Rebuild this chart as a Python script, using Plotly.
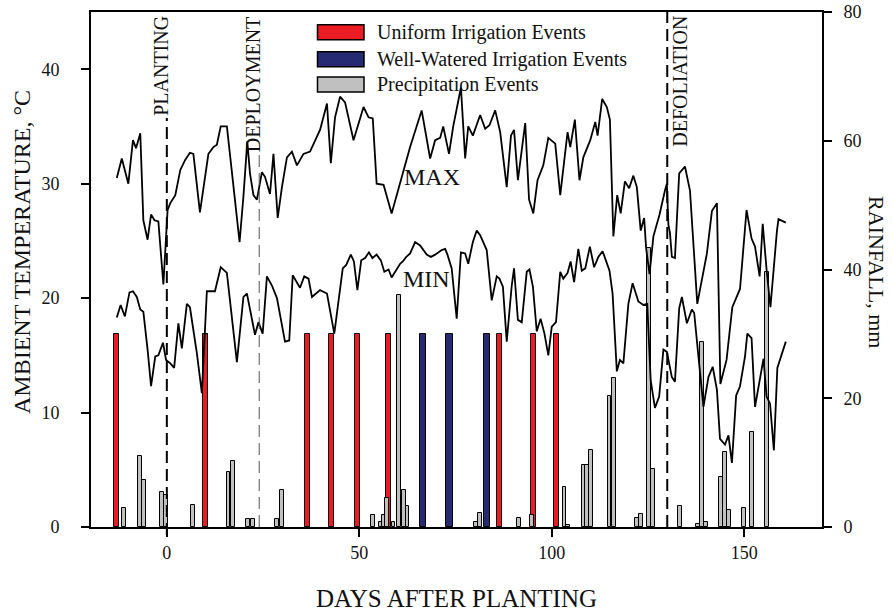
import plotly.graph_objects as go

# ---------------- data ----------------
max_day = [-13.0, -11.7, -10.0, -8.8, -8.0, -6.9, -6.1, -5.0, -4.1, -3.2,
           -2.2, -0.9, 0.2, 0.9, 2.2, 3.5, 4.8, 6.0, 6.9, 8.6,
           10.8, 12.1, 13.0, 14.0, 15.6, 18.9, 19.9, 20.9, 21.6, 22.5,
           23.4, 24.7, 25.5, 26.8, 27.7, 28.8, 29.9, 31.2, 32.5, 33.8,
           35.5, 37.2, 39.8, 41.6, 42.6, 43.7, 45.0, 46.3, 48.5, 51.1,
           52.4, 53.5, 54.5, 56.3, 58.4, 60.6, 63.2, 66.2, 68.4, 69.7,
           71.0, 71.8, 73.3, 74.4, 76.4, 77.5, 78.3, 79.5, 81.4, 82.7,
           83.8, 85.3, 86.6, 88.3, 89.4, 90.2, 91.2, 93.1, 94.1, 95.2,
           96.3, 97.8, 99.1, 100.9, 102.2, 104.1, 104.8, 106.0, 107.2, 108.2,
           110.0, 111.3, 111.9, 113.1, 114.3, 115.1, 116.0, 117.0, 117.9, 119.0,
           120.1, 121.2, 122.1, 123.1, 124.0, 124.5, 125.4, 126.4, 128.0, 129.4,
           129.9, 130.3, 130.7, 131.2, 132.0, 133.1, 133.8, 134.6, 135.9, 137.8,
           140.3, 141.6, 142.9, 143.8, 145.4, 146.9, 148.9, 150.6, 151.9, 152.8,
           154.0, 154.8, 155.8, 156.8, 158.5, 158.9, 160.8]
max_temp = [30.5, 32.2, 30.0, 33.8, 33.1, 34.4, 26.8, 25.1, 27.3, 26.8,
            26.7, 21.2, 27.7, 28.3, 29.0, 31.2, 32.1, 32.7, 32.6, 27.5,
            32.6, 33.2, 33.4, 35.0, 35.0, 24.9, 28.9, 33.7, 30.9, 29.0,
            28.6, 31.0, 30.6, 29.1, 32.6, 27.0, 29.7, 32.3, 32.8, 31.6,
            32.6, 32.8, 34.7, 37.0, 31.8, 35.8, 37.6, 37.1, 33.8, 36.7,
            35.8, 35.7, 30.0, 29.9, 27.4, 30.0, 33.2, 36.4, 32.2, 33.8,
            34.0, 35.0, 32.6, 35.0, 38.4, 32.2, 35.0, 34.2, 36.0, 34.8,
            35.1, 36.4, 34.5, 29.7, 34.2, 34.7, 30.3, 35.3, 28.6, 27.4,
            30.3, 31.6, 34.0, 33.5, 29.0, 34.5, 33.2, 35.6, 30.3, 32.3,
            33.8, 35.4, 34.2, 37.4, 36.7, 35.6, 25.4, 29.0, 27.4, 30.2,
            29.6, 30.7, 29.7, 25.9, 27.0, 24.4, 22.1, 25.4, 27.3, 29.4,
            30.0, 26.4, 25.7, 23.6, 23.5, 30.9, 31.2, 31.5, 29.4, 19.5,
            23.9, 27.6, 28.3, 12.5, 14.6, 19.2, 20.8, 27.7, 25.2, 24.5,
            21.9, 26.5, 22.5, 19.2, 25.9, 26.9, 26.6]

min_day = [-13.0, -12.0, -10.9, -9.7, -8.8, -7.8, -6.9, -6.1, -5.0, -4.1,
           -3.0, -2.2, -1.0, -0.2, 0.9, 1.9, 3.0, 3.9, 5.2, 6.0,
           7.8, 9.1, 10.4, 12.5, 14.0, 15.6, 18.2, 19.9, 20.8, 22.9,
           23.8, 24.9, 26.0, 27.3, 28.6, 30.7, 31.8, 32.7, 34.6, 35.7,
           36.8, 37.7, 39.8, 41.6, 43.5, 44.6, 45.7, 46.6, 47.8, 48.6,
           49.5, 50.5, 51.5, 52.5, 53.4, 54.5, 55.6, 56.5, 57.6, 58.4,
           59.7, 60.6, 61.3, 62.2, 63.2, 64.5, 65.8, 67.5, 68.6, 69.7,
           71.4, 72.3, 72.9, 74.0, 75.3, 76.4, 77.5, 78.3, 79.5, 80.5,
           81.4, 83.1, 84.4, 85.7, 86.4, 87.3, 88.3, 89.6, 90.2, 91.2,
           92.2, 93.5, 94.2, 95.1, 96.1, 97.1, 98.1, 99.1, 100.0, 101.1,
           102.2, 103.0, 104.1, 104.9, 105.8, 106.9, 107.8, 108.7, 109.9, 111.0,
           112.1, 113.2, 115.0, 115.8, 116.9, 117.7, 118.6, 119.9, 121.0, 122.5,
           123.8, 124.8, 125.7, 126.8, 127.9, 129.0, 129.9, 131.2, 132.0, 133.1,
           133.8, 135.1, 136.4, 137.0, 138.1, 139.4, 140.7, 141.8, 142.9, 143.7,
           145.0, 145.9, 146.8, 147.9, 148.9, 150.2, 150.8, 151.9, 152.8, 153.9,
           155.0, 155.8, 156.7, 157.7, 158.6, 160.8]
min_temp = [18.3, 19.4, 18.4, 20.5, 20.6, 20.1, 19.0, 18.8, 15.5, 12.3,
            14.9, 15.0, 16.1, 14.6, 14.3, 13.9, 17.8, 15.6, 19.5, 19.2,
            15.2, 11.7, 20.6, 20.6, 22.7, 22.2, 14.4, 20.1, 20.4, 16.8,
            17.9, 16.9, 21.9, 21.1, 20.0, 16.2, 16.3, 22.0, 20.9, 21.9,
            21.7, 20.1, 20.7, 20.4, 16.9, 19.8, 22.6, 22.9, 23.8, 23.2,
            20.7, 23.3, 23.5, 24.0, 23.5, 23.8, 23.3, 22.3, 22.5, 21.8,
            22.5, 23.0, 23.2, 23.6, 23.9, 24.9, 24.6, 23.8, 23.6, 23.8,
            24.2, 24.3, 23.8, 22.6, 18.2, 24.0, 23.9, 23.0, 24.9, 25.9,
            25.5, 24.2, 19.8, 21.9, 21.7, 21.0, 16.2, 21.1, 22.6, 18.1,
            17.9, 22.3, 22.5, 21.0, 17.1, 18.2, 16.9, 15.0, 17.5, 17.9,
            22.3, 21.7, 22.2, 23.2, 21.4, 24.3, 22.4, 22.6, 24.5, 22.7,
            23.6, 24.1, 22.4, 20.4, 13.6, 14.6, 14.3, 19.5, 21.3, 19.7,
            19.4, 19.5, 12.8, 10.4, 11.4, 15.5, 15.3, 13.1, 12.7, 19.1,
            20.1, 17.8, 19.0, 18.7, 14.9, 10.5, 13.1, 14.0, 12.0, 7.7,
            7.2, 8.0, 5.6, 11.5, 12.3, 14.9, 16.9, 16.5, 10.5, 12.8,
            14.7, 11.4, 10.8, 6.7, 13.9, 16.2]

uniform_day = [-13.0, 10.0, 36.6, 42.7, 49.6, 57.6, 86.4, 95.3, 101.3]
uniform_mm = [30.0, 30.0, 30.0, 30.0, 30.0, 30.0, 30.0, 30.0, 30.0]

well_day = [66.6, 73.4, 83.2]
well_mm = [30.0, 30.0, 30.0]

precip_day = [-11.1, -6.9, -6.0, -1.3, -0.3, 6.8, 16.0, 17.2, 21.1, 22.4,
              28.7, 29.9, 53.6, 55.5, 56.3, 57.2, 58.9, 60.4, 61.5, 62.5,
              80.4, 81.4, 91.4, 94.9, 103.3, 104.2, 108.3, 109.2, 110.2, 115.0,
              116.1, 122.2, 123.1, 125.2, 126.3, 133.2, 138.0, 139.0, 140.1, 144.0,
              145.0, 146.0, 150.0, 152.0, 155.9]
precip_mm = [2.9, 11.1, 7.3, 5.5, 5.0, 3.4, 8.5, 10.3, 1.3, 1.3,
             1.3, 5.7, 1.9, 0.8, 1.9, 4.5, 0.8, 36.0, 5.8, 3.2,
             0.8, 2.1, 1.35, 1.9, 6.2, 0.3, 9.6, 9.6, 12.0, 20.3,
             23.2, 1.35, 2.0, 43.3, 9.0, 3.2, 0.5, 28.8, 0.8, 7.8,
             11.7, 2.7, 2.9, 14.8, 39.6]

event_names = ["PLANTING", "DEPLOYMENT", "DEFOLIATION"]
event_day = [0.0, 24.0, 130.0]

series_names = ["Uniform Irrigation Events", "Well-Watered Irrigation Events",
                "Precipitation Events"]
series_colors = ["#ec1c24", "#262a72", "#c0c0c0"]

temp_ticks = [0, 10, 20, 30, 40]
rain_ticks = [0, 20, 40, 60, 80]
day_ticks = [0, 50, 100, 150]

FONT = "Liberation Serif"
TXT = "#111111"
assert len(max_day) == len(max_temp)
assert len(min_day) == len(min_temp)
assert len(precip_day) == len(precip_mm)

fig = go.Figure()

bar_line = dict(color="black", width=1)
fig.add_trace(go.Bar(x=uniform_day, y=uniform_mm, width=1.3, yaxis="y",
                     marker=dict(color=series_colors[0], line=bar_line),
                     name=series_names[0], showlegend=False))
fig.add_trace(go.Bar(x=well_day, y=well_mm, width=1.7, yaxis="y",
                     marker=dict(color=series_colors[1], line=bar_line),
                     name=series_names[1], showlegend=False))
fig.add_trace(go.Bar(x=precip_day, y=precip_mm, width=1.0, yaxis="y",
                     marker=dict(color=series_colors[2], line=bar_line),
                     name=series_names[2], showlegend=False))

fig.add_trace(go.Scatter(x=max_day, y=max_temp, mode="lines", yaxis="y2",
                         line=dict(color="black", width=1.8), showlegend=False,
                         name="MAX"))
fig.add_trace(go.Scatter(x=min_day, y=min_temp, mode="lines", yaxis="y2",
                         line=dict(color="black", width=1.8), showlegend=False,
                         name="MIN"))

# plot area in pixels: x 91..822, y 12..527
L, R, T, B = 91, 822, 12, 527
PW, PH = R - L, B - T


def px(xp):
    return (xp - L) / PW


def py(yp):
    return (B - yp) / PH


shapes = []
annotations = []

# event lines
ev_style = [dict(color="black", width=2, dash="12px,6px"),
            dict(color="#555555", width=1, dash="12px,6px"),
            dict(color="black", width=2, dash="12px,6px")]
ev_top = [py(118), py(148), 1.0]
ev_bottom = [py(535), 0.0, 0.0]
ev_shift = [-6, -6, 13]
for name, d, st, top, bot, sh in zip(event_names, event_day, ev_style, ev_top,
                                      ev_bottom, ev_shift):
    shapes.append(dict(type="line", xref="x", yref="paper", x0=d, x1=d,
                       y0=bot, y1=top, line=st, layer="above"))
    annotations.append(dict(text=name, x=d, xref="x", y=py(14), yref="paper",
                            xanchor="center", yanchor="top", textangle=-90,
                            xshift=sh, showarrow=False,
                            font=dict(family=FONT, size=20, color=TXT)))

# manual legend
rows = [32.2, 59.2, 84.5]
for name, col, yc in zip(series_names, series_colors, rows):
    shapes.append(dict(type="rect", xref="paper", yref="paper",
                       x0=px(317.5), x1=px(364), y0=py(yc - 7.5), y1=py(yc + 7.5),
                       fillcolor=col, line=dict(color="black", width=1.5)))
    annotations.append(dict(text=name, x=px(375), y=py(yc), xref="paper",
                            yref="paper", xanchor="left", yanchor="middle",
                            showarrow=False,
                            font=dict(family=FONT, size=20, color=TXT)))


def label(text, xp, yp, size, angle=0):
    annotations.append(dict(text=text, x=px(xp), y=py(yp), xref="paper",
                            yref="paper", xanchor="center", yanchor="middle",
                            textangle=angle, showarrow=False,
                            font=dict(family=FONT, size=size, color=TXT)))


# series labels
label("MAX", 432, 177, 24)
label("MIN", 426.5, 279, 24)

# axis titles
label("AMBIENT TEMPERATURE, °C", 22, 252, 24, -90)
label("RAINFALL, mm", 877, 272, 22, 90)
label("DAYS AFTER PLANTING", 456, 598, 25)

axis_common = dict(showgrid=False, zeroline=False, showline=True, linewidth=2,
                   linecolor="black", ticks="outside", ticklen=8, tickwidth=1.5,
                   tickcolor="black", automargin=False,
                   tickfont=dict(family=FONT, size=18, color=TXT))

fig.update_layout(
    width=894, height=613,
    margin=dict(l=L, r=894 - R, t=T, b=613 - B, pad=0, autoexpand=False),
    paper_bgcolor="white", plot_bgcolor="white",
    barmode="overlay", bargap=0,
    showlegend=False,
    font=dict(family=FONT, color=TXT),
    xaxis=dict(range=[-19.7, 170.2], tickvals=day_ticks, mirror=True,
               ticklabelstandoff=0, **axis_common),
    yaxis=dict(range=[0, 80], side="right", tickvals=rain_ticks,
               ticklabelstandoff=8, **axis_common),
    yaxis2=dict(range=[0, 45], side="left", overlaying="y", tickvals=temp_ticks,
                ticklabelstandoff=18, **axis_common),
    shapes=shapes,
    annotations=annotations,
)

fig.write_html("out.html")
